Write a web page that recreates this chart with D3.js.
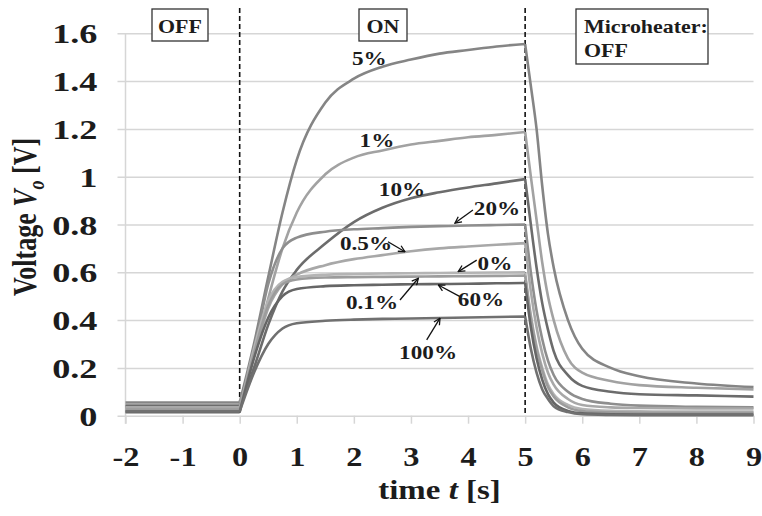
<!DOCTYPE html>
<html>
<head>
<meta charset="utf-8">
<script src="https://cdn.jsdelivr.net/npm/d3@7"></script>
<style>
  body { margin: 0; background: #fff; }
  text { font-family: "Liberation Serif", "Times New Roman", serif; font-weight: bold; fill: #1c1c1c; }
</style>
</head>
<body>
<div id="chart"></div>
<script>
// Sample times (s) shared by every curve
const times = [-2, 0, 0.25, 0.5, 0.75, 1, 1.5, 2, 2.5, 3, 3.5, 4, 4.5, 5,
  5.1, 5.2, 5.3, 5.4, 5.5, 5.75, 6, 6.5, 7, 8, 9];

// Output voltage Vo (V) per concentration
const v5 = [0.055, 0.055, 0.30, 0.58, 0.85, 1.07, 1.31, 1.41, 1.46, 1.49, 1.515, 1.53, 1.545, 1.555,
  1.38, 1.20, 0.96, 0.76, 0.62, 0.40, 0.28, 0.20, 0.165, 0.135, 0.12];
const v1 = [0.045, 0.045, 0.25, 0.49, 0.70, 0.85, 1.01, 1.08, 1.11, 1.135, 1.15, 1.165, 1.175, 1.187,
  1.00, 0.82, 0.64, 0.50, 0.40, 0.24, 0.18, 0.145, 0.128, 0.117, 0.11];
const v10 = [0.04, 0.04, 0.20, 0.38, 0.52, 0.61, 0.72, 0.81, 0.87, 0.91, 0.935, 0.955, 0.972, 0.99,
  0.80, 0.62, 0.47, 0.36, 0.27, 0.17, 0.125, 0.10, 0.09, 0.085, 0.08];
const v20 = [0.03, 0.03, 0.27, 0.55, 0.70, 0.745, 0.77, 0.78, 0.785, 0.79, 0.793, 0.796, 0.798, 0.80,
  0.60, 0.44, 0.32, 0.23, 0.17, 0.10, 0.07, 0.05, 0.042, 0.037, 0.035];
const v05 = [0.035, 0.035, 0.25, 0.45, 0.55, 0.59, 0.63, 0.655, 0.672, 0.688, 0.70, 0.708, 0.715, 0.722,
  0.52, 0.37, 0.26, 0.18, 0.13, 0.07, 0.045, 0.035, 0.032, 0.03, 0.03];
const v0 = [0.02, 0.02, 0.28, 0.48, 0.56, 0.58, 0.59, 0.593, 0.595, 0.596, 0.597, 0.598, 0.599, 0.60,
  0.42, 0.29, 0.20, 0.13, 0.09, 0.045, 0.028, 0.02, 0.018, 0.017, 0.017];
const v01 = [0.025, 0.025, 0.26, 0.46, 0.55, 0.57, 0.578, 0.58, 0.581, 0.582, 0.583, 0.584, 0.585, 0.586,
  0.41, 0.28, 0.19, 0.12, 0.08, 0.035, 0.02, 0.014, 0.012, 0.012, 0.012];
const v60 = [0.015, 0.015, 0.24, 0.41, 0.50, 0.53, 0.542, 0.546, 0.548, 0.55, 0.551, 0.552, 0.554, 0.555,
  0.37, 0.24, 0.15, 0.09, 0.055, 0.02, 0.01, 0.006, 0.005, 0.005, 0.005];
const v100 = [0.018, 0.018, 0.18, 0.30, 0.365, 0.387, 0.397, 0.402, 0.405, 0.407, 0.409, 0.411, 0.413, 0.415,
  0.28, 0.18, 0.11, 0.07, 0.04, 0.015, 0.006, 0.003, 0.002, 0.002, 0.002];

const seriesNames = ["5%", "1%", "10%", "20%", "0.5%", "0%", "0.1%", "60%", "100%"];
const seriesValues = [v5, v1, v10, v20, v05, v0, v01, v60, v100];
const seriesColors = ["#858585", "#a2a2a2", "#6c6c6c", "#8e8e8e", "#a8a8a8", "#b4b4b4", "#9c9c9c", "#666666", "#707070"];

const xTicks = [-2, -1, 0, 1, 2, 3, 4, 5, 6, 7, 8, 9];
const yTicks = [0, 0.2, 0.4, 0.6, 0.8, 1, 1.2, 1.4, 1.6];

// Curve labels and arrows, in data units (t, V)
const labels = [
  {text: "5%", t: 2.27, v: 1.467},
  {text: "1%", t: 2.405, v: 1.124},
  {text: "10%", t: 2.843, v: 0.919},
  {text: "20%", t: 4.507, v: 0.840, from: [4.086, 0.861], to: [3.771, 0.806]},
  {text: "0.5%", t: 2.213, v: 0.693, from: [2.598, 0.728], to: [2.895, 0.686]},
  {text: "0%", t: 4.472, v: 0.610, from: [4.152, 0.651], to: [3.829, 0.603]},
  {text: "0.1%", t: 2.318, v: 0.446, from: [2.808, 0.484], to: [3.129, 0.575]},
  {text: "60%", t: 4.227, v: 0.459, from: [3.859, 0.498], to: [3.479, 0.547]},
  {text: "100%", t: 3.30, v: 0.237, from: [3.276, 0.317], to: [3.509, 0.408]}
];

const width = 762;
const height = 516;
const SX = 1.22; // the original lettering is set wide

const x = d3.scaleLinear([-2, 9], [125.5, 753.5]);
const y = d3.scaleLinear([0, 1.6], [415.7, 33.3]);

const svg = d3.create("svg")
  .attr("width", width)
  .attr("height", height)
  .attr("viewBox", [0, 0, width, height]);

d3.select("#chart").append(() => svg.node());

// Horizontal grid lines with the y labels
svg.append("g")
  .attr("transform", `translate(${x(-2)},0)`)
  .call(d3.axisLeft(y).tickValues(yTicks).tickSize(8).tickFormat(d3.format("~g")))
  .call(g => g.select(".domain").attr("stroke", "#d6d6d6").attr("stroke-width", 1.5)
    .attr("d", `M0,${y(0) + 8}V${y(1.6)}`))
  .call(g => g.selectAll(".tick line").attr("stroke", "#d6d6d6").attr("stroke-width", 1.5)
    .attr("x1", x(9) - x(-2)))
  .call(g => g.selectAll(".tick text")
    .attr("x", null).attr("dy", "0.35em")
    .attr("transform", `translate(-28,0) scale(1.32,1)`)
    .style("font-size", "27.5px").attr("fill", "#1c1c1c"));

// Bottom ticks and time labels
svg.append("g")
  .attr("transform", `translate(0,${y(0)})`)
  .call(d3.axisBottom(x).tickValues(xTicks).tickSize(8).tickFormat(d3.format("d")))
  .call(g => g.select(".domain").remove())
  .call(g => g.selectAll(".tick line").attr("stroke", "#d6d6d6").attr("stroke-width", 1.5))
  .call(g => g.selectAll(".tick text")
    .attr("y", null).attr("dy", null)
    .attr("transform", `translate(0,50) scale(${SX},1)`)
    .text(d => d < 0 ? "-" + (-d) : d)
    .style("font-size", "26.5px").attr("fill", "#1c1c1c"));

// Dashed switching lines
svg.append("g")
  .selectAll("line")
  .data([0, 5])
  .join("line")
    .attr("x1", d => x(d)).attr("x2", d => x(d))
    .attr("y1", 8).attr("y2", y(0))
    .attr("stroke", "#111")
    .attr("stroke-width", 1.6)
    .attr("stroke-dasharray", "5,3");

// Curves: heater off, on, off again
const line = d3.line()
  .x(d => x(d[0]))
  .y(d => y(d[1]))
  .curve(d3.curveMonotoneX);

const pieces = vals => {
  const pts = times.map((t, i) => [t, vals[i]]);
  return line(pts.filter(p => p[0] <= 0)) +
    line(pts.filter(p => p[0] >= 0 && p[0] <= 5)) +
    line(pts.filter(p => p[0] >= 5));
};

svg.append("g")
  .attr("fill", "none")
  .attr("stroke-width", 2.6)
  .attr("stroke-linejoin", "round")
  .selectAll("path")
  .data(seriesValues)
  .join("path")
    .attr("stroke", (d, i) => seriesColors[i])
    .attr("d", d => pieces(d));

// Arrow head
svg.append("defs").append("marker")
  .attr("id", "head")
  .attr("viewBox", "0 0 10 10")
  .attr("refX", 9).attr("refY", 5)
  .attr("markerWidth", 8).attr("markerHeight", 8)
  .attr("markerUnits", "userSpaceOnUse")
  .attr("orient", "auto")
  .append("path")
    .attr("d", "M1,1L9,5L1,9")
    .attr("fill", "none")
    .attr("stroke", "#111")
    .attr("stroke-width", 1.6);

svg.append("g")
  .selectAll("line")
  .data(labels.filter(d => d.from))
  .join("line")
    .attr("x1", d => x(d.from[0])).attr("y1", d => y(d.from[1]))
    .attr("x2", d => x(d.to[0])).attr("y2", d => y(d.to[1]))
    .attr("stroke", "#111")
    .attr("stroke-width", 1.3)
    .attr("marker-end", "url(#head)");

svg.append("g")
  .selectAll("text")
  .data(labels)
  .join("text")
    .attr("transform", d => `translate(${x(d.t)},${y(d.v)}) scale(${SX},1)`)
    .attr("text-anchor", "middle")
    .style("font-size", "19px")
    .text(d => d.text);

// Boxed state notes
const boxes = [
  {lines: ["OFF"], x0: 152, y0: 9, w: 56, h: 32, anchor: "middle"},
  {lines: ["ON"], x0: 359, y0: 9, w: 48, h: 32, anchor: "middle"},
  {lines: ["Microheater:", "OFF"], x0: 576, y0: 9, w: 132, h: 55, anchor: "start"}
];

const box = svg.append("g")
  .selectAll("g")
  .data(boxes)
  .join("g")
    .attr("transform", d => `translate(${d.x0},${d.y0})`);

box.append("rect")
  .attr("width", d => d.w)
  .attr("height", d => d.h)
  .attr("fill", "#fff")
  .attr("stroke", "#333")
  .attr("stroke-width", 1.3);

box.each(function(d) {
  d3.select(this).selectAll("text")
    .data(d.lines)
    .join("text")
      .attr("transform", (s, i) => d.anchor === "middle"
        ? `translate(${d.w / 2},${24}) scale(${SX},1)`
        : `translate(8,${24 + i * 24}) scale(${SX},1)`)
      .attr("text-anchor", d.anchor)
      .style("font-size", "18px")
      .text(s => s);
});

// Axis titles
const xt = svg.append("text")
  .attr("transform", `translate(${(x(-2) + x(9)) / 2},499) scale(${SX},1)`)
  .attr("text-anchor", "middle")
  .style("font-size", "27px");
xt.append("tspan").text("time ");
xt.append("tspan").attr("font-style", "italic").text("t");
xt.append("tspan").text(" [s]");

const yt = svg.append("text")
  .attr("transform", `translate(36,217) rotate(-90) scale(1,1.3)`)
  .attr("text-anchor", "middle")
  .style("font-size", "26px");
yt.append("tspan").text("Voltage ");
yt.append("tspan").attr("font-style", "italic").text("V");
yt.append("tspan").attr("font-style", "italic").attr("font-size", "18px").attr("dy", 6).text("o");
yt.append("tspan").attr("dy", -6).text(" [V]");
</script>
</body>
</html>
